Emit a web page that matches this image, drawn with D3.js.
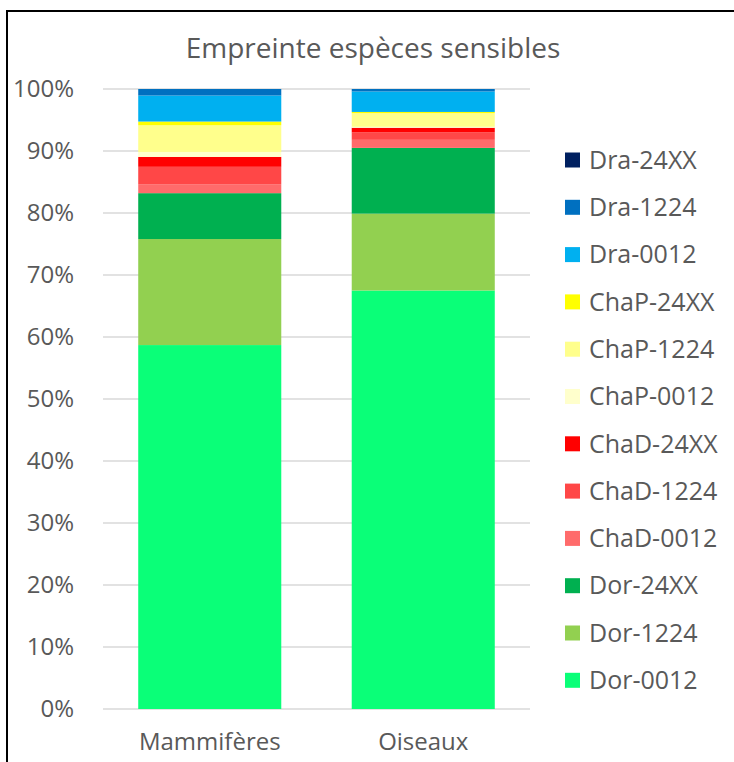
<!DOCTYPE html>
<html>
<head>
<meta charset="utf-8">
<script src="https://cdn.jsdelivr.net/npm/d3@7"></script>
<style>
  body { margin: 0; background: #fff; }
  text { font-family: "Open Sans", sans-serif; fill: #595959; }
</style>
</head>
<body>
<div class="canvas"></div>
<script>
// categories and series (values in %)
const categories = ['Mammifères', 'Oiseaux'];
const seriesNames = ['Dor-0012', 'Dor-1224', 'Dor-24XX',
                     'ChaD-0012', 'ChaD-1224', 'ChaD-24XX',
                     'ChaP-0012', 'ChaP-1224', 'ChaP-24XX',
                     'Dra-0012', 'Dra-1224', 'Dra-24XX'];
const seriesColors = ['#0aff78', '#92d050', '#00b050',
                      '#ff6b6b', '#ff4747', '#ff0000',
                      '#ffffcc', '#ffff8c', '#ffff00',
                      '#00b0f0', '#0070c0', '#002060'];
const mammiferes = [58.7, 17.1, 7.4, 1.45, 2.8, 1.6, 0.8, 4.3, 0.6, 4.2, 1.05, 0];
const oiseaux    = [67.5, 12.4, 10.6, 1.3, 1.2, 0.75, 0.15, 2.2, 0.2, 3.3, 0.4, 0];
const yTicks = [0, 10, 20, 30, 40, 50, 60, 70, 80, 90, 100];

const rows = categories.map((c, i) => {
  const vals = i === 0 ? mammiferes : oiseaux;
  const r = { cat: c };
  seriesNames.forEach((s, j) => r[s] = vals[j]);
  return r;
});

const svg = d3.select('.canvas').append('svg')
    .attr('width', 734)
    .attr('height', 762);

// frame
svg.append('path')
    .attr('d', 'M7,762 V11 H734')
    .attr('fill', 'none')
    .attr('stroke', '#000')
    .attr('stroke-width', 2);

const x = d3.scaleBand()
    .domain(categories)
    .range([103, 530])
    .paddingInner(0.33)
    .paddingOuter(0.165);

const y = d3.scaleLinear()
    .domain([0, 100])
    .range([709, 89]);

// gridlines
svg.append('g')
    .selectAll('line')
    .data(yTicks)
    .join('line')
    .attr('x1', 103)
    .attr('x2', 530)
    .attr('y1', d => y(d))
    .attr('y2', d => y(d))
    .attr('stroke', '#d9d9d9')
    .attr('stroke-width', 1.5);

// y axis labels
const yAxis = svg.append('g')
    .attr('transform', 'translate(74,0)')
    .call(d3.axisLeft(y).tickValues(yTicks).tickFormat(d => d + '%').tickSize(0).tickPadding(0));
yAxis.select('.domain').remove();
yAxis.selectAll('text')
    .style('font-family', '"Open Sans", sans-serif')
    .style('font-size', '24px')
    .attr('fill', '#595959');

// stacked bars
const stacked = d3.stack().keys(seriesNames)(rows);
svg.append('g')
    .selectAll('g')
    .data(stacked)
    .join('g')
    .attr('fill', (d, i) => seriesColors[i])
    .selectAll('rect')
    .data(d => d)
    .join('rect')
    .attr('x', d => x(d.data.cat))
    .attr('width', x.bandwidth())
    .attr('y', d => y(d[1]))
    .attr('height', d => y(d[0]) - y(d[1]));

// x axis labels
const xAxis = svg.append('g')
    .attr('transform', 'translate(0,733)')
    .call(d3.axisBottom(x).tickSize(0).tickPadding(0));
xAxis.select('.domain').remove();
xAxis.selectAll('text')
    .style('font-family', '"Open Sans", sans-serif')
    .style('font-size', '24px')
    .attr('fill', '#595959');

// title
svg.append('text')
    .attr('x', 373)
    .attr('y', 58)
    .attr('text-anchor', 'middle')
    .style('font-size', '28px')
    .text('Empreinte espèces sensibles');

// legend (reverse order, top is last series)
const legendNames = seriesNames.slice().reverse();
const legendColors = seriesColors.slice().reverse();
const legend = svg.append('g')
    .selectAll('g')
    .data(legendNames)
    .join('g')
    .attr('transform', (d, i) => `translate(565, ${160 + i * 47.3})`);
legend.append('rect')
    .attr('x', 0)
    .attr('y', -7.5)
    .attr('width', 15)
    .attr('height', 15)
    .attr('fill', (d, i) => legendColors[i]);
legend.append('text')
    .attr('x', 24)
    .attr('dy', '0.35em')
    .style('font-size', '25px')
    .text(d => d);
</script>
</body>
</html>
